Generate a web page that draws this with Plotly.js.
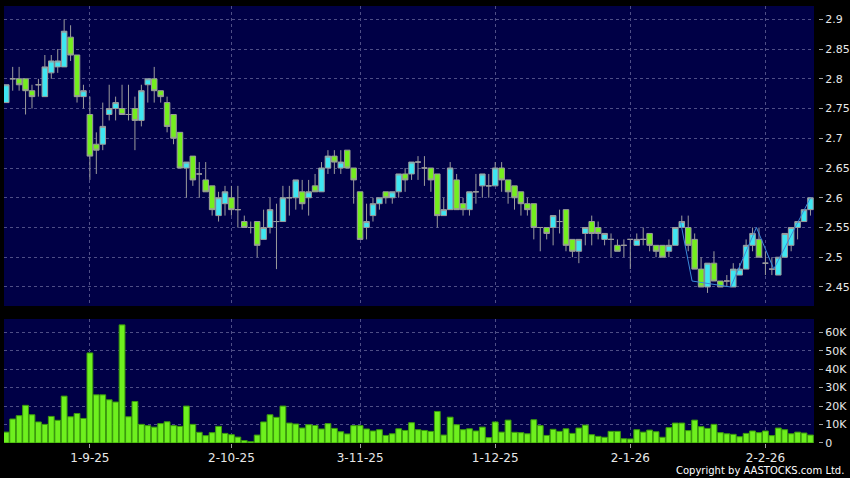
<!DOCTYPE html>
<html>
<head>
<meta charset="utf-8">
<script src="https://cdn.plot.ly/plotly-3.0.1.min.js"></script>
<style>
html,body{margin:0;padding:0;background:#000;}
#chart{width:850px;height:478px;}
</style>
</head>
<body>
<div id="chart"></div>
<script>
const opens = [2.76,2.80,2.80,2.80,2.78,2.79,2.77,2.81,2.82,2.82,
2.87,2.84,2.77,2.74,2.69,2.69,2.74,2.75,2.75,2.74,
2.75,2.73,2.79,2.80,2.78,2.76,2.74,2.71,2.65,2.67,
2.64,2.63,2.62,2.57,2.59,2.60,2.58,2.56,2.55,2.56,
2.53,2.55,2.56,2.56,2.60,2.60,2.61,2.60,2.62,2.61,
2.65,2.67,2.65,2.68,2.65,2.61,2.55,2.57,2.59,2.61,
2.60,2.61,2.64,2.64,2.66,2.65,2.65,2.64,2.57,2.58,
2.63,2.59,2.58,2.61,2.62,2.62,2.62,2.65,2.63,2.62,
2.61,2.59,2.59,2.55,2.55,2.55,2.56,2.58,2.53,2.51,
2.54,2.56,2.55,2.53,2.53,2.52,2.52,2.53,2.52,2.53,
2.54,2.52,2.52,2.51,2.52,2.55,2.55,2.53,2.48,2.45,
2.49,2.46,2.46,2.45,2.47,2.48,2.52,2.53,2.49,2.48,
2.47,2.50,2.52,2.55,2.56,2.58];
const highs = [2.79,2.82,2.82,2.80,2.79,2.80,2.84,2.84,2.85,2.90,
2.89,2.84,2.79,2.77,2.71,2.76,2.79,2.77,2.79,2.79,
2.77,2.79,2.80,2.82,2.78,2.77,2.74,2.71,2.66,2.67,
2.66,2.66,2.62,2.61,2.62,2.62,2.62,2.57,2.56,2.56,
2.58,2.60,2.59,2.62,2.62,2.63,2.63,2.63,2.64,2.66,
2.68,2.68,2.68,2.68,2.65,2.61,2.59,2.60,2.60,2.61,
2.61,2.64,2.65,2.66,2.67,2.67,2.65,2.64,2.60,2.66,
2.64,2.60,2.61,2.64,2.64,2.64,2.66,2.66,2.63,2.62,
2.61,2.60,2.59,2.55,2.55,2.57,2.58,2.58,2.53,2.53,
2.55,2.57,2.56,2.54,2.54,2.53,2.53,2.53,2.54,2.55,
2.54,2.52,2.52,2.53,2.55,2.57,2.57,2.54,2.50,2.49,
2.51,2.46,2.47,2.49,2.49,2.53,2.55,2.55,2.51,2.50,
2.50,2.54,2.55,2.56,2.58,2.60];
const lows = [2.76,2.78,2.78,2.74,2.75,2.77,2.77,2.80,2.81,2.82,
2.83,2.76,2.75,2.63,2.64,2.68,2.73,2.73,2.74,2.73,
2.68,2.72,2.76,2.76,2.76,2.71,2.69,2.65,2.60,2.62,
2.60,2.61,2.57,2.56,2.57,2.57,2.55,2.55,2.54,2.50,
2.53,2.54,2.48,2.56,2.57,2.58,2.58,2.57,2.61,2.61,
2.64,2.64,2.64,2.65,2.59,2.53,2.53,2.56,2.58,2.59,
2.59,2.60,2.61,2.63,2.63,2.62,2.61,2.55,2.57,2.58,
2.58,2.57,2.57,2.59,2.60,2.60,2.62,2.61,2.59,2.58,
2.57,2.57,2.53,2.51,2.53,2.52,2.54,2.51,2.50,2.49,
2.52,2.52,2.53,2.52,2.50,2.51,2.50,2.48,2.52,2.52,
2.51,2.50,2.50,2.50,2.52,2.55,2.51,2.48,2.45,2.44,
2.46,2.45,2.45,2.45,2.47,2.48,2.51,2.50,2.47,2.47,
2.47,2.50,2.51,2.53,2.56,2.57];
const closes = [2.79,2.80,2.79,2.78,2.77,2.79,2.82,2.83,2.83,2.88,
2.84,2.77,2.78,2.67,2.68,2.72,2.75,2.76,2.74,2.74,
2.73,2.78,2.80,2.78,2.77,2.72,2.70,2.65,2.66,2.63,
2.64,2.61,2.58,2.60,2.61,2.58,2.58,2.55,2.55,2.52,
2.55,2.58,2.56,2.60,2.60,2.63,2.59,2.61,2.61,2.65,
2.67,2.66,2.66,2.65,2.63,2.53,2.56,2.59,2.60,2.60,
2.61,2.64,2.63,2.66,2.66,2.65,2.63,2.57,2.58,2.65,
2.58,2.58,2.61,2.61,2.64,2.62,2.65,2.63,2.61,2.60,
2.59,2.58,2.55,2.55,2.54,2.57,2.56,2.52,2.51,2.53,
2.55,2.54,2.54,2.54,2.53,2.51,2.52,2.53,2.53,2.53,
2.52,2.51,2.50,2.52,2.55,2.56,2.52,2.48,2.45,2.49,
2.46,2.45,2.46,2.48,2.48,2.52,2.54,2.50,2.49,2.48,
2.50,2.54,2.55,2.56,2.58,2.60];
const volumes = [5900,13000,14800,20400,15300,11400,10100,14400,12300,25400,
14200,16000,13300,48800,26100,26100,23400,22200,64000,14200,
22500,10100,9400,8600,10500,11500,9400,9000,20000,10100,
5800,4000,5600,9000,5200,4500,3200,1300,700,4300,
11400,15300,13900,20000,10800,10300,8100,9900,9500,7600,
10500,7900,6100,4900,9400,9400,7600,6500,7200,4100,
5000,7700,6800,11000,7200,6800,6300,17100,4300,14000,
9900,7200,7700,6500,8600,2900,11400,5900,12400,5800,
5600,5000,12600,9400,4100,7400,6300,7700,5200,8100,
9700,4500,3600,3100,6300,6300,2300,2200,7200,5900,
7000,6100,3100,8300,10800,10800,6700,12400,8800,7900,
10100,5600,5000,4700,3400,5200,6500,5600,6500,4000,
8100,7200,5000,5900,5400,4300];
const zigzagIdx = [104.8, 106.6, 112.6, 116.6, 119.3, 125];
const zigzagVal = [2.56, 2.46, 2.45, 2.55, 2.48, 2.60];
const tickIdx = [13, 35, 55, 76, 97, 118];
const tickLabels = ['1-9-25', '2-10-25', '3-11-25', '1-12-25', '2-1-26', '2-2-26'];
const priceTicks = [2.45, 2.5, 2.55, 2.6, 2.65, 2.7, 2.75, 2.8, 2.85, 2.9];
const volTickVals = [0, 10000, 20000, 30000, 40000, 50000, 60000];
const volTickText = ['0', '10K', '20K', '30K', '40K', '50K', '60K'];

const idx = closes.map((_, i) => i);
const gridColor = '#4e4e86';
const fontFam = 'DejaVu Sans, sans-serif';

const traces = [
  {
    type: 'candlestick', x: idx, open: opens, high: highs, low: lows, close: closes,
    xaxis: 'x', yaxis: 'y', whiskerwidth: 0, hoverinfo: 'skip',
    increasing: {line: {color: '#9c9c9c', width: 1}, fillcolor: '#3ee6f2'},
    decreasing: {line: {color: '#9c9c9c', width: 1}, fillcolor: '#74ee1e'},
    showlegend: false
  },
  {
    type: 'scatter', mode: 'lines', x: zigzagIdx, y: zigzagVal, xaxis: 'x', yaxis: 'y',
    line: {color: '#3a8ad8', width: 1}, hoverinfo: 'skip', showlegend: false
  },
  {
    type: 'bar', x: idx, y: volumes, xaxis: 'x', yaxis: 'y2',
    marker: {color: '#6ef01e', line: {color: '#3c9c0c', width: 1}},
    hoverinfo: 'skip', showlegend: false
  }
];

const axisFont = {family: fontFam, size: 11, color: '#e8e8e8'};
const layout = {
  width: 850, height: 478,
  paper_bgcolor: '#000000', plot_bgcolor: '#000046',
  margin: {l: 4, r: 4, t: 6, b: 35},
  bargap: 0.1, boxgap: 0.14, boxgroupgap: 0,
  showlegend: false,
  xaxis: {
    domain: [0, 810/842], range: [-0.35, 125.55], anchor: 'y2',
    tickmode: 'array', tickvals: tickIdx, ticktext: tickLabels,
    ticks: 'outside', ticklen: 4, tickcolor: '#a0a0a0',
    showgrid: true, gridcolor: gridColor, griddash: '3px,3px', gridwidth: 1,
    zeroline: false, showline: false,
    tickfont: {family: fontFam, size: 12, color: '#e8e8e8'},
    rangeslider: {visible: false}, fixedrange: true
  },
  yaxis: {
    domain: [0.3135, 1], range: [2.418, 2.9224],
    side: 'right', anchor: 'free', position: 814/842,
    tickmode: 'array', tickvals: priceTicks, tickformat: '.2~f',
    ticks: 'outside', ticklen: 4, tickcolor: '#a0a0a0',
    showgrid: true, gridcolor: gridColor, griddash: '3px,3px', gridwidth: 1,
    zeroline: false, showline: false, tickfont: axisFont, fixedrange: true
  },
  yaxis2: {
    domain: [0, 0.2838], range: [0, 67200],
    side: 'right', anchor: 'free', position: 814/842,
    tickmode: 'array', tickvals: volTickVals, ticktext: volTickText,
    ticks: 'outside', ticklen: 4, tickcolor: '#a0a0a0',
    showgrid: true, gridcolor: gridColor, griddash: '3px,3px', gridwidth: 1,
    zeroline: false, showline: false, tickfont: axisFont, fixedrange: true
  },
  annotations: [{
    text: 'Copyright by AASTOCKS.com Ltd.', xref: 'paper', yref: 'paper',
    x: 1, y: -0.062, xanchor: 'right', yanchor: 'middle', showarrow: false,
    font: {family: fontFam, size: 10, color: '#ffffff'}
  }]
};

Plotly.newPlot('chart', traces, layout, {staticPlot: true, displayModeBar: false});
</script>
</body>
</html>
